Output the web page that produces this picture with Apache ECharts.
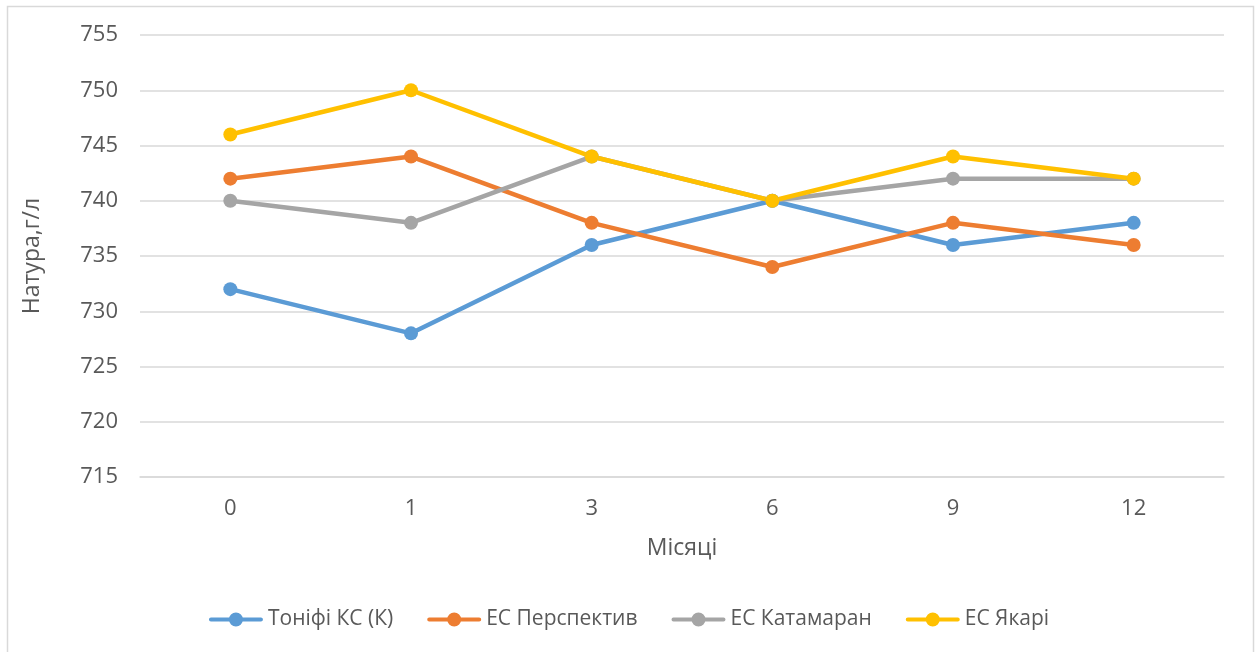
<!DOCTYPE html>
<html>
<head>
<meta charset="utf-8">
<script src="https://cdn.jsdelivr.net/npm/echarts@6/dist/echarts.min.js"></script>
<style>
html,body{margin:0;padding:0;background:#fff;}
#c{width:1258px;height:652px;}
</style>
</head>
<body>
<div id="c"></div>
<script>
var categories = ['0', '1', '3', '6', '9', '12'];
var seriesNames = ['Тоніфі КС (К)', 'ЕС Перспектив', 'ЕС Катамаран', 'ЕС Якарі'];
var toniFi = [732, 728, 736, 740, 736, 738];
var perspektyv = [742, 744, 738, 734, 738, 736];
var katamaran = [740, 738, 744, 740, 742, 742];
var yakari = [746, 750, 744, 740, 744, 742];
var colors = ['#5B9BD5', '#ED7D31', '#A5A5A5', '#FFC000'];
var values = [toniFi, perspektyv, katamaran, yakari];

var legendIcon = 'path://M2,5 L52,5 A2,2 0 0,1 52,9 L2,9 A2,2 0 0,1 2,5 Z M20,7 A7,7 0 1,1 34,7 A7,7 0 1,1 20,7 Z';

var chart = echarts.init(document.getElementById('c'));
var font = '"Open Sans", "Noto Sans", sans-serif';
chart.setOption({
  animation: false,
  color: colors,
  textStyle: {fontFamily: font},
  graphic: [{
    type: 'rect',
    shape: {x: 7.5, y: 6.5, width: 1246, height: 700},
    style: {fill: 'none', stroke: '#d9d9d9', lineWidth: 1.5},
    silent: true
  }],
  grid: {left: 140, right: 34, top: 35, bottom: 175},
  legend: {
    left: 'center',
    top: 604,
    itemWidth: 54,
    itemHeight: 14,
    itemGap: 34,
    icon: legendIcon,
    textStyle: {fontSize: 21, color: '#595959', fontFamily: font},
    data: seriesNames
  },
  xAxis: {
    type: 'category',
    data: categories,
    boundaryGap: true,
    name: 'Місяці',
    nameLocation: 'middle',
    nameGap: 60,
    nameTextStyle: {fontSize: 23, color: '#595959'},
    axisLine: {lineStyle: {color: '#d9d9d9', width: 1.5}},
    axisTick: {show: false},
    axisLabel: {fontSize: 22, color: '#595959', margin: 21, fontFamily: font}
  },
  yAxis: {
    type: 'value',
    min: 715,
    max: 755,
    interval: 5,
    name: 'Натура,г/л',
    nameLocation: 'middle',
    nameGap: 96,
    nameTextStyle: {fontSize: 23, color: '#595959'},
    axisLine: {show: false},
    axisTick: {show: false},
    axisLabel: {fontSize: 22, color: '#595959', margin: 22, fontFamily: font},
    splitLine: {lineStyle: {color: '#d9d9d9', width: 1.5}}
  },
  series: seriesNames.map(function (n, i) {
    return {
      name: n,
      type: 'line',
      data: values[i],
      symbol: 'circle',
      symbolSize: 14,
      lineStyle: {width: 4.5, color: colors[i], cap: 'round'},
      itemStyle: {color: colors[i]}
    };
  })
});
</script>
</body>
</html>
